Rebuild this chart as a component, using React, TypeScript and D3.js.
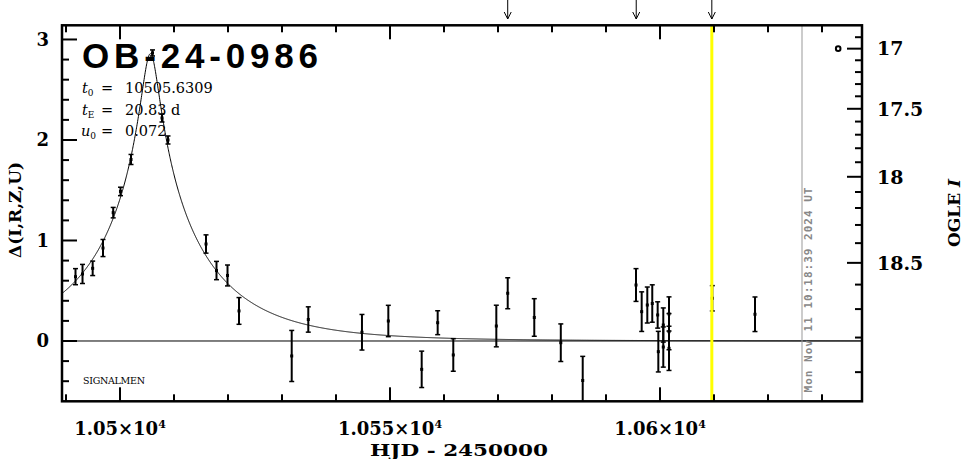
import React from "react";
import * as d3 from "d3";

// photometry: HJD-2450000, Δ (mag), error
const hjd = [
  10491.76, 10493.06, 10494.94, 10496.85, 10498.74, 10500.09, 10502.04, 10506.02,
  10507.78, 10508.89, 10515.93, 10517.87, 10519.91, 10522.04, 10531.8, 10534.87,
  10544.81, 10549.69, 10555.87, 10558.83, 10561.72, 10569.69, 10571.8, 10576.72,
  10581.63, 10585.69, 10595.56, 10596.61, 10597.65, 10598.57, 10599.57, 10599.69,
  10600.61, 10600.61, 10601.67, 10601.67, 10601.67, 10609.69, 10617.59,
];
const delta = [
  0.64, 0.667, 0.723, 0.925, 1.277, 1.488, 1.806, 2.866,
  2.219, 2.0, 0.965, 0.701, 0.652, 0.299, -0.149, 0.214,
  0.087, 0.199, -0.282, 0.182, -0.139, 0.149, 0.475, 0.234,
  -0.017, -0.393, 0.557, 0.292, 0.358, 0.373, 0.259, -0.106,
  0.159, -0.06, 0.269, 0.093, -0.073, 0.425, 0.266,
];
const deltaErr = [
  0.08, 0.095, 0.072, 0.085, 0.052, 0.042, 0.05, 0.03,
  0.04, 0.04, 0.091, 0.091, 0.104, 0.133, 0.254, 0.126,
  0.177, 0.156, 0.181, 0.119, 0.162, 0.207, 0.154, 0.187,
  0.187, 0.24, 0.163, 0.197, 0.179, 0.186, 0.131, 0.202,
  0.17, 0.2, 0.17, 0.18, 0.22, 0.126, 0.172,
];

// PSPL fit
const t0 = 10505.6309;
const tE = 20.83;
const u0 = 0.072;

// OGLE I scale on the right
const iBase = 18.811;
const blendFrac = 0.317;
const iMajor = [17, 17.5, 18, 18.5];
const iLabels = ["17", "17.5", "18", "18.5"];

const xMajor = [10500, 10550, 10600];
const xLabels = ["1.05", "1.055", "1.06"];
const yMajor = [0, 1, 2, 3];

const arrowHjd = [10571.8, 10595.6, 10609.6];
const yellowHjd = 10609.6;
const nowHjd = 10626.3;
const baseMarker = { hjd: 10633.0, mag: 17 };

const W = 965;
const H = 459;
const serif = "'DejaVu Serif', serif";

const magToDelta = (m: number) =>
  2.5 * Math.log10((Math.pow(10, -0.4 * (m - iBase)) - (1 - blendFrac)) / blendFrac);

const pspl = (t: number) => {
  const tau = (t - t0) / tE;
  const u = Math.sqrt(u0 * u0 + tau * tau);
  const A = (u * u + 2) / (u * Math.sqrt(u * u + 4));
  return 2.5 * Math.log10(A);
};

export default function App() {
  const x = d3.scaleLinear().domain([10489.26, 10637.41]).range([62, 862]);
  const y = d3.scaleLinear().domain([-0.6, 3.141]).range([401.3, 25.3]);
  const [xl, xr] = x.range();
  const [yb, yt] = y.range();

  const xMinor = d3.range(10490, 10631, 10);
  const yMinor = d3.range(-2, 16).map((i) => i * 0.2);
  const iTicks = d3.range(169, 190).map((i) => i / 10);

  const ts = d3.range(x.domain()[0], x.domain()[1], 0.05).concat([t0]).sort((a, b) => a - b);
  const line = d3
    .line<number>()
    .x((t) => x(t))
    .y((t) => y(pspl(t)));

  return (
    <svg
      width={W}
      height={H}
      style={{ position: "absolute", left: 0, top: 0, background: "#fff" }}
    >
      {/* model curve */}
      <path d={line(ts) ?? ""} fill="none" stroke="#000" strokeWidth={1} />
      <line x1={xl} x2={xr} y1={y(0)} y2={y(0)} stroke="#000" strokeWidth={1} />

      {/* data */}
      {hjd.map((t, i) => {
        const cx = x(t);
        const lo = y(delta[i] - deltaErr[i]);
        const hi = y(delta[i] + deltaErr[i]);
        return (
          <g key={i} stroke="#000">
            <line x1={cx} x2={cx} y1={Math.min(lo, yb)} y2={hi} strokeWidth={2} />
            <line x1={cx - 2.5} x2={cx + 2.5} y1={hi} y2={hi} strokeWidth={1.5} />
            {lo < yb && <line x1={cx - 2.5} x2={cx + 2.5} y1={lo} y2={lo} strokeWidth={1.5} />}
            <rect x={cx - 1.5} y={y(delta[i]) - 1.5} width={3} height={3} fill="#000" stroke="none" />
          </g>
        );
      })}

      {/* gray "now" line and yellow line */}
      <line x1={x(nowHjd)} x2={x(nowHjd)} y1={yt} y2={yb} stroke="#999" strokeWidth={1} />
      <line x1={x(yellowHjd)} x2={x(yellowHjd)} y1={yt} y2={yb} stroke="#ffff00" strokeWidth={3} />

      {/* baseline marker */}
      <circle
        cx={x(baseMarker.hjd)}
        cy={y(magToDelta(baseMarker.mag))}
        r={2.3}
        fill="none"
        stroke="#000"
        strokeWidth={2}
      />

      {/* frame */}
      <rect x={xl} y={yt} width={xr - xl} height={yb - yt} fill="none" stroke="#000" strokeWidth={2.5} />

      {/* x ticks top & bottom */}
      {xMinor.map((t) => {
        const len = xMajor.includes(t) ? 14 : 7;
        return (
          <g key={t} stroke="#000" strokeWidth={2}>
            <line x1={x(t)} x2={x(t)} y1={yb} y2={yb - len} />
            <line x1={x(t)} x2={x(t)} y1={yt} y2={yt + len} />
          </g>
        );
      })}

      {/* left ticks */}
      {yMinor.map((v) => {
        const major = Math.abs(v - Math.round(v)) < 1e-6;
        return (
          <line
            key={v}
            x1={xl}
            x2={xl + (major ? 15 : 7)}
            y1={y(v)}
            y2={y(v)}
            stroke="#000"
            strokeWidth={2}
          />
        );
      })}

      {/* right ticks (OGLE I) */}
      {iTicks.map((m) => {
        const major = iMajor.some((v) => Math.abs(v - m) < 1e-6);
        const yy = y(magToDelta(m));
        return (
          <line key={m} x1={xr} x2={xr - (major ? 15 : 7)} y1={yy} y2={yy} stroke="#000" strokeWidth={2} />
        );
      })}

      {/* left labels */}
      {yMajor.map((v) => (
        <text
          key={v}
          x={49}
          y={y(v)}
          dy="0.36em"
          textAnchor="end"
          fontFamily={serif}
          fontWeight="bold"
          fontSize={18}
        >
          {v}
        </text>
      ))}

      {/* right labels */}
      {iMajor.map((m, i) => (
        <text
          key={m}
          x={877}
          y={y(magToDelta(m))}
          dy="0.36em"
          fontFamily={serif}
          fontWeight="bold"
          fontSize={19}
        >
          {iLabels[i]}
        </text>
      ))}

      {/* bottom labels */}
      {xMajor.map((t, i) => (
        <text
          key={t}
          x={x(t)}
          y={435}
          textAnchor="middle"
          fontFamily={serif}
          fontWeight="bold"
          fontSize={18}
        >
          {xLabels[i]}×10
          <tspan fontSize={11} dy={-7}>
            4
          </tspan>
        </text>
      ))}

      <text
        x={459}
        y={456}
        textAnchor="middle"
        fontFamily={serif}
        fontWeight="bold"
        fontSize={17}
        textLength={178}
        lengthAdjust="spacingAndGlyphs"
      >
        HJD - 2450000
      </text>

      <text
        transform="translate(21,210) rotate(-90)"
        textAnchor="middle"
        fontFamily={serif}
        fontWeight="bold"
        fontSize={17}
      >
        Δ(I,R,Z,U)
      </text>

      <text
        transform="translate(960,213) rotate(-90)"
        textAnchor="middle"
        fontFamily={serif}
        fontWeight="bold"
        fontSize={17}
      >
        OGLE <tspan fontStyle="italic">I</tspan>
      </text>

      {/* arrows at top */}
      {arrowHjd.map((t) => (
        <g key={t} stroke="#000" strokeWidth={1} fill="none">
          <line x1={x(t)} x2={x(t)} y1={0} y2={19} />
          <polyline points={`${x(t) - 3.5},12 ${x(t)},19 ${x(t) + 3.5},12`} />
        </g>
      ))}

      {/* title and parameters */}
      <text x={82} y={68} fontFamily="'Liberation Sans', sans-serif" fontWeight="bold" fontSize={35} textLength={236}>
        OB-24-0986
      </text>
      <g fontFamily={serif} fontSize={14.5}>
        <text x={82} y={93}>
          <tspan fontStyle="italic">t</tspan>
          <tspan fontSize={9} dy={3}>0</tspan>
        </text>
        <text x={101} y={93}>=</text>
        <text x={125} y={93}>10505.6309</text>
        <text x={82} y={115}>
          <tspan fontStyle="italic">t</tspan>
          <tspan fontSize={9} dy={3}>E</tspan>
        </text>
        <text x={101} y={115}>=</text>
        <text x={125} y={115}>20.83 d</text>
        <text x={81} y={136}>
          <tspan fontStyle="italic">u</tspan>
          <tspan fontSize={9} dy={3}>0</tspan>
        </text>
        <text x={101} y={136}>=</text>
        <text x={125} y={136}>0.072</text>
      </g>

      <text x={83} y={384} fontFamily={serif} fontSize={9.5} textLength={62}>
        SIGNALMEN
      </text>

      <text
        transform="translate(812,290) rotate(-90)"
        textAnchor="middle"
        fontFamily="'DejaVu Sans Mono', monospace"
        fontWeight="bold"
        fontSize={11}
        fill="#888"
        textLength={205}
      >
        Mon Nov 11 10:18:39 2024 UT
      </text>
    </svg>
  );
}
